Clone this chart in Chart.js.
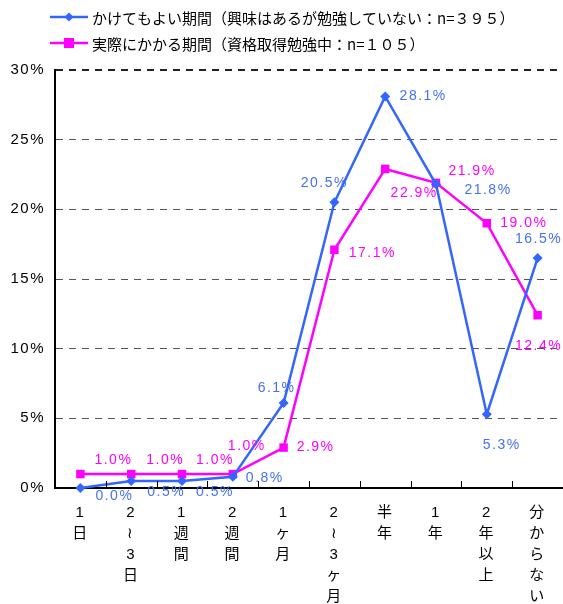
<!DOCTYPE html>
<html>
<head>
<meta charset="utf-8">
<script src="https://cdn.jsdelivr.net/npm/chart.js@4/dist/chart.umd.min.js"></script>
<style>
html,body{margin:0;padding:0;background:#fff;overflow:hidden;}
#wrap{width:563px;height:604px;position:relative;}
</style>
</head>
<body>
<div id="wrap"><canvas id="c"></canvas></div>
<script>
// ---- data ----
const categories = [
  ['1','日'],
  ['2','≀','3','日'],
  ['1','週','間'],
  ['2','週','間'],
  ['1','ヶ','月'],
  ['2','≀','3','ヶ','月'],
  ['半','年'],
  ['1','年'],
  ['2','年','以','上'],
  ['分','か','ら','な','い']
];
const seriesNames = [
  'かけてもよい期間（興味はあるが勉強していない：n=３９５）',
  '実際にかかる期間（資格取得勉強中：n=１０５）'
];
const willingValues = [0.0, 0.5, 0.5, 0.8, 6.1, 20.5, 28.1, 21.8, 5.3, 16.5];
const actualValues  = [1.0, 1.0, 1.0, 1.0, 2.9, 17.1, 22.9, 21.9, 19.0, 12.4];
const yTicks = [0, 5, 10, 15, 20, 25, 30];

// ---- label placement (offsets in px from the point) ----
const willingLabelOffsets = [[34,8],[35,11],[33,11],[32,1],[-7,-15],[-10,-19],[38,0],[52,6],[15,31],[1,-19]];
const actualLabelOffsets  = [[33,-14],[34,-14],[33,-14],[14,-28],[32,0],[38,3],[29,24],[36,-12],[37,0],[1,31]];

const BLUE = '#3366FF';
const BLUE_TEXT = '#4472EE';
const PINK = '#FF00FF';
const LATIN = '"Liberation Sans", Arial, sans-serif';
const CJK = '"Liberation Sans", "Noto Sans CJK JP", sans-serif';

const labelPlugin = {
  id: 'pointLabels',
  afterDatasetsDraw(chart) {
    const ctx = chart.ctx;
    const offs = [willingLabelOffsets, actualLabelOffsets];
    const cols = [BLUE_TEXT, PINK];
    chart.data.datasets.forEach((ds, di) => {
      const meta = chart.getDatasetMeta(di);
      ctx.save();
      ctx.font = '14px ' + LATIN;
      ctx.letterSpacing = '1.5px';
      ctx.fillStyle = cols[di];
      ctx.textAlign = 'center';
      ctx.textBaseline = 'middle';
      meta.data.forEach((pt, i) => {
        const o = offs[di][i];
        ctx.fillText(ds.data[i].toFixed(1) + '%', pt.x + o[0], pt.y + o[1]);
      });
      ctx.restore();
    });
  }
};

const innerTicksPlugin = {
  id: 'innerTicks',
  afterDraw(chart) {
    const xs = chart.scales.x;
    const ctx = chart.ctx;
    const bottom = chart.chartArea.bottom;
    ctx.save();
    ctx.strokeStyle = '#000';
    ctx.lineWidth = 1;
    for (let i = 0; i < categories.length - 1; i++) {
      const x = Math.round((xs.getPixelForValue(i) + xs.getPixelForValue(i + 1)) / 2) + 0.5;
      ctx.beginPath();
      ctx.moveTo(x, bottom);
      ctx.lineTo(x, bottom - 7);
      ctx.stroke();
    }
    ctx.restore();
  }
};

const legendPlugin = {
  id: 'customLegend',
  afterDraw(chart) {
    const ctx = chart.ctx;
    const rows = [
      {y: 17, color: BLUE, marker: 'diamond', text: seriesNames[0]},
      {y: 43, color: PINK, marker: 'square', text: seriesNames[1]}
    ];
    rows.forEach(r => {
      ctx.save();
      ctx.strokeStyle = r.color;
      ctx.lineWidth = 2.5;
      ctx.beginPath();
      ctx.moveTo(50, r.y);
      ctx.lineTo(88, r.y);
      ctx.stroke();
      ctx.fillStyle = r.color;
      if (r.marker === 'diamond') {
        ctx.beginPath();
        ctx.moveTo(69, r.y - 4.5);
        ctx.lineTo(73.5, r.y);
        ctx.lineTo(69, r.y + 4.5);
        ctx.lineTo(64.5, r.y);
        ctx.closePath();
        ctx.fill();
      } else {
        ctx.fillRect(64, r.y - 5, 10, 10);
      }
      ctx.fillStyle = '#000';
      ctx.font = '15px "Noto Sans CJK JP", sans-serif';
      ctx.letterSpacing = '0px';
      ctx.textAlign = 'left';
      ctx.textBaseline = 'middle';
      ctx.fillText(r.text, 92, r.y + 1);
      ctx.restore();
    });
  }
};

const spacingPlugin = {
  id: 'spacing',
  beforeDraw(chart) { chart.ctx.letterSpacing = '1.5px'; }
};

new Chart(document.getElementById('c'), {
  type: 'line',
  data: {
    labels: categories,
    datasets: [
      {
        label: seriesNames[0],
        data: willingValues,
        borderColor: BLUE,
        backgroundColor: BLUE,
        borderWidth: 2.5,
        pointStyle: 'rectRot',
        pointRadius: 5,
        pointBorderWidth: 0,
        tension: 0,
        clip: false
      },
      {
        label: seriesNames[1],
        data: actualValues,
        borderColor: PINK,
        backgroundColor: PINK,
        borderWidth: 2.5,
        pointStyle: 'rect',
        pointRadius: 6,
        pointBorderWidth: 0,
        tension: 0,
        clip: false
      }
    ]
  },
  options: {
    responsive: true,
    maintainAspectRatio: false,
    animation: false,
    layout: {autoPadding: false, padding: {top: 70, right: 0, left: 0, bottom: 0}},
    plugins: {legend: {display: false}, tooltip: {enabled: false}},
    scales: {
      x: {
        offset: true,
        grid: {display: false},
        border: {display: true, color: '#000', width: 2},
        ticks: {
          autoSkip: false,
          maxRotation: 0,
          minRotation: 0,
          color: '#000',
          padding: 6,
          font: {family: CJK, size: 15, lineHeight: '21px'}
        },
        afterFit(s) { s.height = 116; s.paddingLeft = 0; s.paddingRight = 0; }
      },
      y: {
        min: 0,
        max: 30,
        afterBuildTicks(s) { s.ticks = yTicks.map(v => ({value: v})); },
        grid: {
          drawTicks: false,
          color: c => c.tick && c.tick.value === 30 ? '#222' : '#555',
          lineWidth: c => c.tick && c.tick.value === 30 ? 2 : 1
        },
        border: {display: true, color: '#000', width: 2, dash: [7, 6]},
        ticks: {
          color: '#000',
          padding: 10,
          font: {family: LATIN, size: 15},
          callback: v => v + '%'
        },
        afterFit(s) { s.width = 55; s.paddingTop = 0; s.paddingBottom = 0; }
      }
    }
  },
  plugins: [spacingPlugin, innerTicksPlugin, labelPlugin, legendPlugin]
});
</script>
</body>
</html>
